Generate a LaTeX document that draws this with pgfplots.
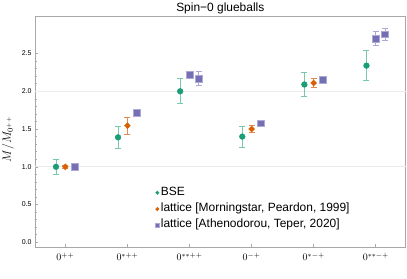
\documentclass[border=0pt]{standalone}
\usepackage{pgfplots}
\pgfplotsset{compat=1.18}
\usepackage{fontspec}
\setmainfont{Liberation Sans}
\definecolor{cg}{HTML}{1B9E77}
\definecolor{co}{HTML}{D95F02}
\definecolor{cp}{HTML}{7570B3}
\definecolor{cge}{HTML}{76C9AE}
\definecolor{cpe}{HTML}{ADA9D6}
\definecolor{coe}{HTML}{E58A4E}
\definecolor{framec}{HTML}{A8A8A8}
\pgfplotstableread{
x y e
0.85 1.00 0.10
1.85 1.39 0.15
2.85 2.00 0.165
3.85 1.40 0.14
4.85 2.09 0.155
5.85 2.34 0.195
}\bse
\pgfplotstableread{
x y e
1 1.00 0.02
2 1.545 0.11
4 1.50 0.05
5 2.11 0.06
}\mp
\pgfplotstableread{
x y e
1.15 1.00 0.01
2.15 1.72 0.02
3 2.216 0.02
3.15 2.17 0.095
4.15 1.576 0.02
5.15 2.15 0.03
6 2.70 0.09
6.15 2.755 0.08
}\at
\begin{document}
\begin{tikzpicture}
\useasboundingbox (-35bp,-31.7bp) rectangle (372bp,247.3bp);
\begin{axis}[
  scale only axis, width=370.6bp, height=231bp,
  xmin=0.512, xmax=6.48, ymin=-0.066, ymax=2.993,
  axis line style={framec, line width=0.7bp},
  tick style={framec, line width=0.6bp},
  tick align=inside,
  xtick={1,2,3,4,5,6},
  xticklabels={$0^{++}$,$0^{*++}$,$0^{**++}$,$0^{-+}$,$0^{*-+}$,$0^{**-+}$},
  xtick pos=bottom, ytick pos=left,
  ytick={0,0.5,1,1.5,2,2.5},
  minor y tick num=4,
  major tick length=3.5bp, minor tick length=2bp,
  x tick label style={font=\fontsize{10}{12}\selectfont, yshift=-2bp},
  y tick label style={font=\fontsize{7}{8}\selectfont, /pgf/number format/.cd, fixed, fixed zerofill, precision=1, assume math mode=true},
  extra y ticks={1,2}, extra y tick labels={},
  extra y tick style={grid=major, major tick length=0pt},
  major grid style={color=black!8, line width=0.8bp},
  ylabel={$M/M_{0^{++}}$},
  ylabel style={font=\fontsize{11.5}{13}\selectfont, at={(axis description cs:-0.073,0.469)}, anchor=center},
  legend style={at={(axis description cs:0.324,0.265)}, anchor=north west, draw=none, fill=none,
    font=\fontsize{12}{14}\selectfont, row sep=3.3bp, inner sep=0pt,
    nodes={inner sep=1.5bp, text height=0.75em, text depth=0.25em}},
  legend cell align=left,
  legend image code/.code={\draw[#1, every mark/.append style={scale=0.6}] plot coordinates {(2bp,0bp)};},
]
\addplot[only marks, mark=*, mark size=2.9bp, color=cg,
  error bars/.cd, y dir=both, y explicit,
  error bar style={cge, line width=0.8bp},
  error mark options={rotate=90, mark size=3bp, cge, line width=0.8bp}]
  table[x=x, y=y, y error=e] {\bse};
\addlegendentry{BSE}
\addplot[only marks, mark=diamond*, mark size=3bp, color=co, mark options={xscale=1.3},
  error bars/.cd, y dir=both, y explicit,
  error bar style={coe, line width=0.8bp},
  error mark options={rotate=90, mark size=3bp, coe, line width=0.8bp}]
  table[x=x, y=y, y error=e] {\mp};
\addlegendentry{lattice [Morningstar, Peardon, 1999]}
\addplot[only marks, mark=square*, mark size=3.4bp, color=cp, mark options={fill=cp, draw=cpe, line width=0.6bp},
  error bars/.cd, y dir=both, y explicit,
  error bar style={cpe, line width=0.8bp},
  error mark options={rotate=90, mark size=3bp, cpe, line width=0.8bp}]
  table[x=x, y=y, y error=e] {\at};
\addlegendentry{lattice [Athenodorou, Teper, 2020]}
\end{axis}
\node[anchor=base, font=\fontsize{12}{14}\selectfont, inner sep=0pt] at (185.3bp,235.3bp) {Spin−0 glueballs};
\end{tikzpicture}
\end{document}
